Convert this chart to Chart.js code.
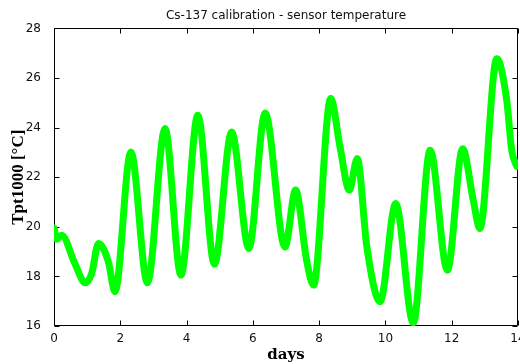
<!DOCTYPE html>
<html>
<head>
<meta charset="utf-8">
<script src="https://cdn.jsdelivr.net/npm/chart.js@4"></script>
<style>
  body { margin: 0; background: #fff; }
  canvas { display: block; }
</style>
</head>
<body>
<canvas id="myChart" width="520" height="364"></canvas>
<script>
// values (days, temperature in °C)
let days = [0, 0.08, 0.23, 0.63, 0.94, 1.14, 1.34, 1.64, 1.84, 2.32, 2.82, 3.35, 3.83, 4.34,
  4.84, 5.36, 5.88, 6.37, 6.97, 7.29, 7.62, 7.83, 8.35, 8.63, 8.91, 9.15, 9.44, 9.84,
  10.31, 10.84, 11.35, 11.87, 12.33, 12.65, 12.85, 13.36, 13.66, 13.81, 13.96];
let temps = [19.95, 19.5, 19.66, 18.52, 17.74, 18.13, 19.33, 18.59, 17.38, 23.02, 17.74, 23.96, 18.05, 24.5,
  18.49, 23.82, 19.13, 24.59, 19.19, 21.48, 18.66, 17.65, 25.17, 23.22, 21.48, 22.75, 19.19, 16.98,
  20.94, 16.13, 23.09, 18.25, 23.15, 21.07, 19.93, 26.78, 25.1, 23.09, 22.44];
let xTicks = [0, 2, 4, 6, 8, 10, 12, 14];
let yTicks = [16, 18, 20, 22, 24, 26, 28];

let ctx = document.getElementById("myChart").getContext("2d");

// box around the plot with inward tick marks on all four sides
const frame = {
  id: "frame",
  beforeDatasetsDraw(chart) {
    const { ctx, chartArea: a, scales: { x, y } } = chart;
    const L = Math.round(a.left) + 0.5, R = Math.round(a.right) - 0.5;
    const T = Math.round(a.top) + 0.5, B = Math.round(a.bottom) - 0.5;
    ctx.save();
    ctx.strokeStyle = "#000";
    ctx.lineWidth = 1;
    ctx.beginPath();
    ctx.rect(L, T, R - L, B - T);
    x.ticks.forEach(t => {
      let px = Math.round(x.getPixelForValue(t.value)) + 0.5;
      ctx.moveTo(px, B); ctx.lineTo(px, B - 5);
      ctx.moveTo(px, T); ctx.lineTo(px, T + 5);
    });
    y.ticks.forEach(t => {
      let py = Math.round(y.getPixelForValue(t.value)) + 0.5;
      ctx.moveTo(L, py); ctx.lineTo(L + 5, py);
      ctx.moveTo(R, py); ctx.lineTo(R - 5, py);
    });
    ctx.stroke();
    ctx.restore();
  }
};

let chart = new Chart(ctx, {
  type: "line",
  data: {
    datasets: [
      {
        data: days.map((d, i) => ({ x: d, y: temps[i] })),
        borderColor: "#00ff00",
        borderWidth: 7,
        borderCapStyle: "round",
        borderJoinStyle: "round",
        pointRadius: 0,
        cubicInterpolationMode: "monotone",
        fill: false
      }
    ]
  },
  options: {
    responsive: false,
    animation: false,
    layout: { padding: { right: 2 } },
    plugins: {
      legend: { display: false },
      tooltip: { enabled: false },
      title: {
        display: true,
        fullSize: false,
        text: "Cs-137 calibration - sensor temperature",
        color: "#111",
        font: { family: "DejaVu Sans", size: 12, weight: "normal", lineHeight: 1.2 },
        padding: { top: 9, bottom: 5 }
      }
    },
    scales: {
      x: {
        type: "linear",
        min: 0,
        max: 14,
        afterBuildTicks: s => { s.ticks = xTicks.map(v => ({ value: v })); },
        afterFit: s => { s.height = 38; s.paddingRight = 0; s.paddingLeft = 0; },
        grid: { display: false },
        border: { display: false },
        ticks: {
          color: "#111",
          padding: -2,
          maxRotation: 0,
          autoSkip: false,
          font: { family: "DejaVu Sans", size: 12 }
        },
        title: {
          display: true,
          text: "days",
          color: "#000",
          font: { family: "DejaVu Serif", size: 15, weight: "bold", lineHeight: 1.2 },
          padding: { top: 0, bottom: 0 }
        }
      },
      y: {
        min: 16,
        max: 28,
        afterBuildTicks: s => { s.ticks = yTicks.map(v => ({ value: v })); },
        afterFit: s => { s.width = 54; s.paddingTop = 0; s.paddingBottom = 0; },
        grid: { display: false },
        border: { display: false },
        ticks: {
          color: "#111",
          padding: 5,
          font: { family: "DejaVu Sans", size: 12 }
        },
        title: {
          display: true,
          text: "Tpt1000 [°C]",
          color: "#000",
          font: { family: "Liberation Serif", size: 17, weight: "bold", lineHeight: 1.2 },
          padding: { top: 8, bottom: 0 }
        }
      }
    }
  },
  plugins: [frame]
});
</script>
</body>
</html>
